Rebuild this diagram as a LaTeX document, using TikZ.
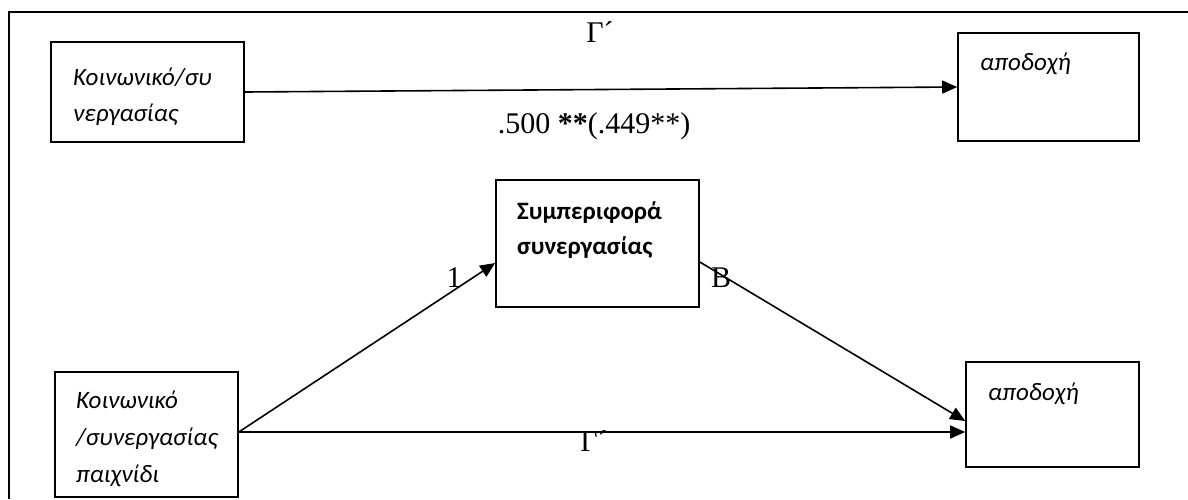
\documentclass[tikz,border=0pt]{standalone}
\usepackage{fontspec}
\setmainfont{Liberation Serif}
\newfontfamily\calibri{Carlito}
\usetikzlibrary{arrows.meta}
\tikzset{
  boxshape/.style={draw, line width=1.6pt, inner sep=0pt, rectangle},
  itext/.style={inner sep=0pt, anchor=base west, font=\calibri\itshape\fontsize{25}{36}\selectfont},
  btext/.style={inner sep=0pt, anchor=base west, font=\calibri\bfseries\fontsize{25}{36}\selectfont},
  link/.style={line width=1.6pt, -{Triangle[length=15pt,width=13pt]}},
  lbl/.style={inner sep=0pt, anchor=base, font=\fontsize{30}{34}\selectfont},
  frame/.style={line width=1.8pt},
}
\begin{document}
\begin{tikzpicture}[x=1pt,y=-1pt]
\useasboundingbox (0,0) rectangle (1188,499);
\coordinate (fb) at (9,499);
\coordinate (fc) at (9,12);
\coordinate (fr) at (1188,12);
\draw[frame] (fb) -- (fc) -- (fr);

% boxes
\node[boxshape, minimum width=193pt, minimum height=100pt] (b1) at (147.5,92) {};
\node[boxshape, minimum width=181pt, minimum height=108pt] (tr) at (1048.5,87) {};
\node[boxshape, minimum width=203pt, minimum height=127pt] (mid) at (597.5,243.5) {};
\node[boxshape, minimum width=183pt, minimum height=125pt] (bl) at (146.5,434.5) {};
\node[boxshape, minimum width=173pt, minimum height=105pt] (br) at (1052.5,414.5) {};

% box texts
\node[itext] (b1a) at (73,85) {Κοινωνικό/συ};
\node[itext] (b1b) at (73,121) {νεργασίας};
\node[itext] (tra) at (980,70) {αποδοχή};
\node[btext] (mida) at (517,219) {Συμπεριφορά};
\node[btext] (midb) at (517,254) {συνεργασίας};
\node[itext] (bla) at (76,408) {Κοινωνικό};
\node[itext] (blb) at (76,445) {/συνεργασίας};
\node[itext] (blc) at (76,482) {παιχνίδι};
\node[itext] (bra) at (988,400) {αποδοχή};

% connectors
\draw[link] (b1.east) -- (tr.west);
\draw[link] ([yshift=2.5pt]bl.east) -- ([yshift=-19.5pt]mid.west);
\draw[link] ([yshift=-18.5pt]mid.east) -- ([yshift=-6.5pt]br.west);
\draw[link] ([yshift=2.5pt]bl.east) -- ([yshift=-17.5pt]br.west);

% labels
\node[lbl] (g1) at (600,42) {Γ´};
\node[lbl] (coef) at (594,133) {.500 \textbf{**}(.449**)};
\node[lbl] (one) at (454,287) {1};
\node[lbl] (bee) at (721,287) {B};
\node[lbl] (g2) at (594,451) {Γ´};
\end{tikzpicture}
\end{document}
